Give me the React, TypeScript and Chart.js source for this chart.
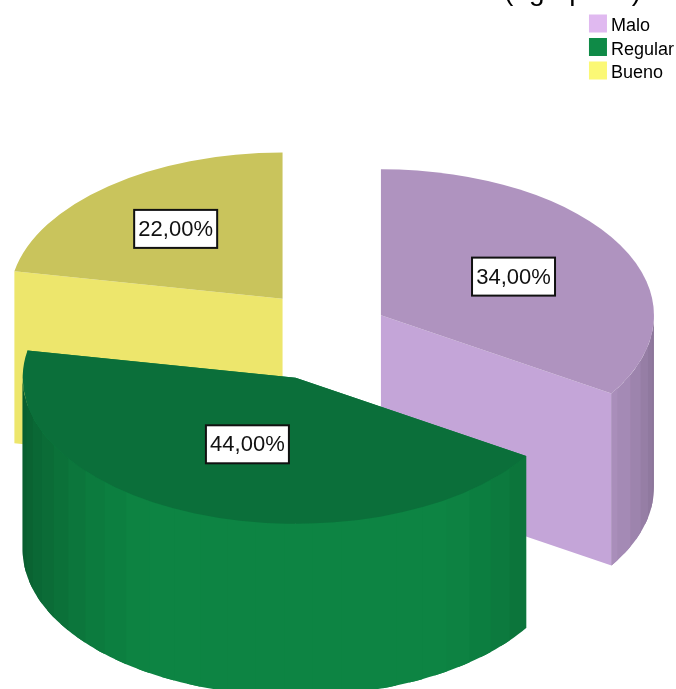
import React, { useEffect, useRef } from "react";
import { Chart, registerables } from "chart.js";

Chart.register(...registerables);

const categories = ["Malo", "Regular", "Bueno"];
const percentages = [34, 44, 22];
const valueLabels = ["34,00%", "44,00%", "22,00%"];
const titleText = "(agrupado)";

const legendColors = ["#E0B9F0", "#0F8A47", "#FBF875"];
const topColors = ["#AF93BF", "#0B6F3A", "#C9C45C"];
const faceColors = [[196, 165, 216], [13, 132, 67], [237, 230, 108]];
const explodeBy = [57, 96, 76];
const labelFractions = [0.55, 0.49, 0.62];

const FONT = "'Liberation Sans', Arial, sans-serif";
const RADIUS = 273;
const TILT = 0.535;
const DEPTH = 172;
const CENTER_X = 331;
const CENTER_Y = 330;
const STRIP = (6 * Math.PI) / 180;
const SWATCH = 18;

const rgb = (c: number[], f = 1) =>
  `rgb(${Math.round(c[0] * f)},${Math.round(c[1] * f)},${Math.round(c[2] * f)})`;

const wallShade = (a: number) => Math.min(1, 0.7 + 0.38 * Math.pow(Math.sin(a), 1.3));

const apexOf = (i: number, arc: any) => {
  const mid = (arc.startAngle + arc.endAngle) / 2;
  return {
    x: CENTER_X + explodeBy[i] * Math.cos(mid),
    y: CENTER_Y + explodeBy[i] * Math.sin(mid) * TILT,
    mid,
  };
};

const pie3d = {
  id: "pie3d",
  beforeDatasetDraw(chart: any) {
    const ctx = chart.ctx;
    const arcs = chart.getDatasetMeta(0).data as any[];
    const order = arcs
      .map((arc, i) => ({ arc, i, apex: apexOf(i, arc) }))
      .sort((p, q) => p.apex.y - q.apex.y);

    for (const { arc, i, apex } of order) {
      const rim = (a: number, dz = 0) => [
        apex.x + arc.outerRadius * Math.cos(a),
        apex.y + arc.outerRadius * TILT * Math.sin(a) + dz,
      ];
      // Flat cut faces
      ctx.fillStyle = rgb(faceColors[i]);
      for (const a of [arc.startAngle, arc.endAngle]) {
        const p = rim(a);
        ctx.beginPath();
        ctx.moveTo(apex.x, apex.y);
        ctx.lineTo(p[0], p[1]);
        ctx.lineTo(p[0], p[1] + DEPTH);
        ctx.lineTo(apex.x, apex.y + DEPTH);
        ctx.closePath();
        ctx.fill();
      }
      // Outer wall, shaded in overlapping strips so no seams show
      const from = Math.max(arc.startAngle, 0);
      const to = Math.min(arc.endAngle, Math.PI);
      for (let a = from; a < to; a += STRIP) {
        const stop = Math.min(a + STRIP, to);
        const b = Math.min(stop + STRIP / 2, to);
        ctx.fillStyle = rgb(faceColors[i], wallShade((a + stop) / 2));
        ctx.beginPath();
        const steps = 6;
        for (let s = 0; s <= steps; s++) {
          const p = rim(a + ((b - a) * s) / steps);
          if (s === 0) ctx.moveTo(p[0], p[1]);
          else ctx.lineTo(p[0], p[1]);
        }
        for (let s = steps; s >= 0; s--) {
          const p = rim(a + ((b - a) * s) / steps, DEPTH);
          ctx.lineTo(p[0], p[1]);
        }
        ctx.closePath();
        ctx.fill();
      }
      // Top face: the library's own arc element, tilted
      ctx.save();
      ctx.translate(apex.x, apex.y);
      ctx.scale(1, TILT);
      ctx.translate(-arc.x, -arc.y);
      arc.draw(ctx);
      ctx.restore();
    }
    return false;
  },
  afterDraw(chart: any) {
    const ctx = chart.ctx;
    const arcs = chart.getDatasetMeta(0).data as any[];
    ctx.save();
    // Legend swatches, wider than the library's gap to the text allows
    (chart.legend.legendHitBoxes as any[]).forEach((hit, i) => {
      ctx.fillStyle = legendColors[i];
      ctx.fillRect(hit.left, hit.top + hit.height / 2 - SWATCH / 2 - 3, SWATCH, SWATCH);
    });
    // Clipped title, only the descenders show
    ctx.font = `28px ${FONT}`;
    ctx.fillStyle = "#000";
    ctx.textAlign = "left";
    ctx.textBaseline = "alphabetic";
    ctx.fillText(titleText, 504, 0);
    // Value labels
    ctx.font = `22px ${FONT}`;
    ctx.textAlign = "center";
    ctx.textBaseline = "middle";
    arcs.forEach((arc, i) => {
      const apex = apexOf(i, arc);
      const f = labelFractions[i] * arc.outerRadius;
      const cx = apex.x + f * Math.cos(apex.mid) + 1;
      const cy = apex.y + f * TILT * Math.sin(apex.mid);
      const w = 83;
      const h = 38;
      ctx.fillStyle = "#fff";
      ctx.strokeStyle = "#111";
      ctx.lineWidth = 2;
      ctx.fillRect(cx - w / 2, cy - h / 2, w, h);
      ctx.strokeRect(cx - w / 2, cy - h / 2, w, h);
      ctx.fillStyle = "#111";
      ctx.fillText(valueLabels[i], cx, cy + 1);
    });
    ctx.restore();
  },
};

export default function App() {
  const ref = useRef<HTMLCanvasElement>(null);
  useEffect(() => {
    if (!ref.current) return;
    const chart = new Chart(ref.current, {
      type: "pie",
      data: {
        labels: categories,
        datasets: [
          {
            data: percentages,
            backgroundColor: topColors,
            borderWidth: 0,
            radius: RADIUS,
          } as any,
        ],
      },
      options: {
        responsive: false,
        animation: false,
        layout: { padding: { top: 12, right: -8 } },
        plugins: {
          tooltip: { enabled: false },
          legend: {
            position: "right",
            align: "start",
            labels: {
              boxWidth: 13,
              boxHeight: 18,
              padding: 5.5,
              color: "#111",
              font: { family: FONT, size: 18 },
              generateLabels: () =>
                categories.map((text, i) => ({
                  text,
                  fillStyle: "rgba(0,0,0,0)",
                  strokeStyle: "rgba(0,0,0,0)",
                  lineWidth: 0,
                  index: i,
                  hidden: false,
                })),
            },
          },
        },
      } as any,
      plugins: [pie3d],
    });
    return () => chart.destroy();
  }, []);
  return (
    <div style={{ position: "absolute", left: 0, top: 0, width: 676, height: 689, overflow: "hidden" }}>
      <canvas ref={ref} width={676} height={689} style={{ display: "block", filter: "blur(0.6px)" }} />
    </div>
  );
}
